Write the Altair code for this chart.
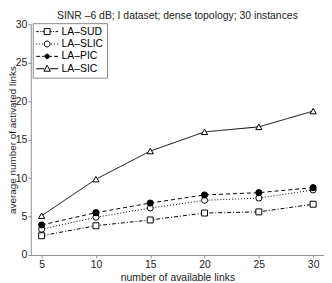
import altair as alt
import pandas as pd

links = [5, 10, 15, 20, 25, 30]
series = ["LA–SUD", "LA–SLIC", "LA–PIC", "LA–SIC"]
sud = [2.5, 3.8, 4.55, 5.45, 5.6, 6.6]
slic = [3.35, 4.9, 6.1, 7.1, 7.4, 8.45]
pic = [3.9, 5.5, 6.75, 7.8, 8.1, 8.75]
sic = [5.1, 9.85, 13.5, 16.0, 16.65, 18.7]

x_ticks = [5, 10, 15, 20, 25, 30]
y_ticks = [0, 5, 10, 15, 20, 25, 30]

values = {"LA–SUD": sud, "LA–SLIC": slic, "LA–PIC": pic, "LA–SIC": sic}
rows = []
for s in series:
    for x, v in zip(links, values[s]):
        rows.append({"links": x, "value": v, "series": s})
df = pd.DataFrame(rows)

FONT = "Liberation Sans"

dashes = [[4, 2, 1, 2], [1, 2], [4, 3], [1, 0]]
shapes = ["square", "circle", "circle", "triangle-up"]
fills = ["white", "white", "black", "white"]
strokes = ["black", "black", "black", "black"]
sizes = [36, 40, 22, 50]

legend_paths = [
    "M-1,0L-0.5,0M-0.2,0L0,0M0.25,0L0.6,0M0.6,-0.6L1.8,-0.6L1.8,0.6L0.6,0.6ZM1.8,0L2.15,0M2.4,0L2.6,0M2.9,0L3.4,0",
    "M-1,0L-0.8,0M-0.4,0L-0.2,0M0.2,0L0.4,0M1.8,0A0.6,0.6 0 1,1 0.6,0A0.6,0.6 0 1,1 1.8,0ZM2.0,0L2.2,0M2.6,0L2.8,0M3.2,0L3.4,0",
    "M-1,0L-0.2,0M0.2,0L0.7,0M1.65,0A0.45,0.45 0 1,1 0.75,0A0.45,0.45 0 1,1 1.65,0ZM1.7,0L2.2,0M2.6,0L3.4,0",
    "M-1,0L0.6,0M1.8,0L3.4,0M1.2,-0.7L1.85,0.5L0.55,0.5Z",
]

xenc = alt.X(
    "links:Q",
    scale=alt.Scale(domain=[4, 31], nice=False, zero=False),
    axis=alt.Axis(values=x_ticks, title="number of available links", grid=False,
                  tickSize=3, labelPadding=2, titlePadding=2),
)
yenc = alt.Y(
    "value:Q",
    scale=alt.Scale(domain=[0, 30], nice=False),
    axis=alt.Axis(values=y_ticks, title="average number of activated links", grid=False,
                  tickSize=3, labelPadding=1, titleX=-13, titleFontSize=10),
)

base = alt.Chart(df)

lines = base.mark_line(strokeWidth=1, color="black").encode(
    x=xenc, y=yenc,
    strokeDash=alt.StrokeDash("series:N", scale=alt.Scale(domain=series, range=dashes), legend=None),
    detail="series:N",
)

points = base.mark_point(strokeWidth=1, stroke="black", opacity=1).encode(
    x=xenc, y=yenc,
    shape=alt.Shape("series:N", scale=alt.Scale(domain=series, range=shapes), legend=None),
    fill=alt.Fill("series:N", scale=alt.Scale(domain=series, range=fills), legend=None),
    size=alt.Size("series:N", scale=alt.Scale(domain=series, range=sizes), legend=None),
)

leg = alt.Legend(
    title=None, orient="none", legendX=2, legendY=-1,
    symbolSize=100, symbolStrokeColor="black", symbolStrokeWidth=1, symbolOpacity=1,
    labelFont=FONT, labelFontSize=10.5, labelColor="black", labelOffset=15,
    padding=3, rowPadding=1.5, strokeColor="#888888", fillColor="white",
)

legend_layer = base.transform_calculate(lseries="datum.series").mark_point(
    opacity=0, strokeWidth=1
).encode(
    x=xenc, y=yenc,
    shape=alt.Shape("lseries:N", scale=alt.Scale(domain=series, range=legend_paths), legend=leg),
    fill=alt.Fill("lseries:N", scale=alt.Scale(domain=series, range=fills), legend=leg),
    stroke=alt.Stroke("lseries:N", scale=alt.Scale(domain=series, range=strokes), legend=leg),
)

chart = alt.layer(lines, points, legend_layer).resolve_scale(
    shape="independent", fill="independent", stroke="independent"
).properties(
    width=296, height=233,
    autosize=alt.AutoSizeParams(type="none"),
    padding={"left": 23, "top": 15, "right": 0, "bottom": 30},
    title=alt.TitleParams("SINR –6 dB; I dataset; dense topology; 30 instances",
                          font=FONT, fontSize=10.5, fontWeight="normal", color="#222222",
                          frame="group", anchor="middle", offset=-2),
).configure_view(stroke=None).configure_axis(
    domainColor="#8c8c8c", tickColor="#8c8c8c", labelFont=FONT, titleFont=FONT,
    labelFontSize=10.5, titleFontSize=10.5, labelColor="#222222", titleColor="#222222",
    titleFontWeight="normal",
)

chart.save("out.html", embed_options={"renderer": "svg", "actions": False})
